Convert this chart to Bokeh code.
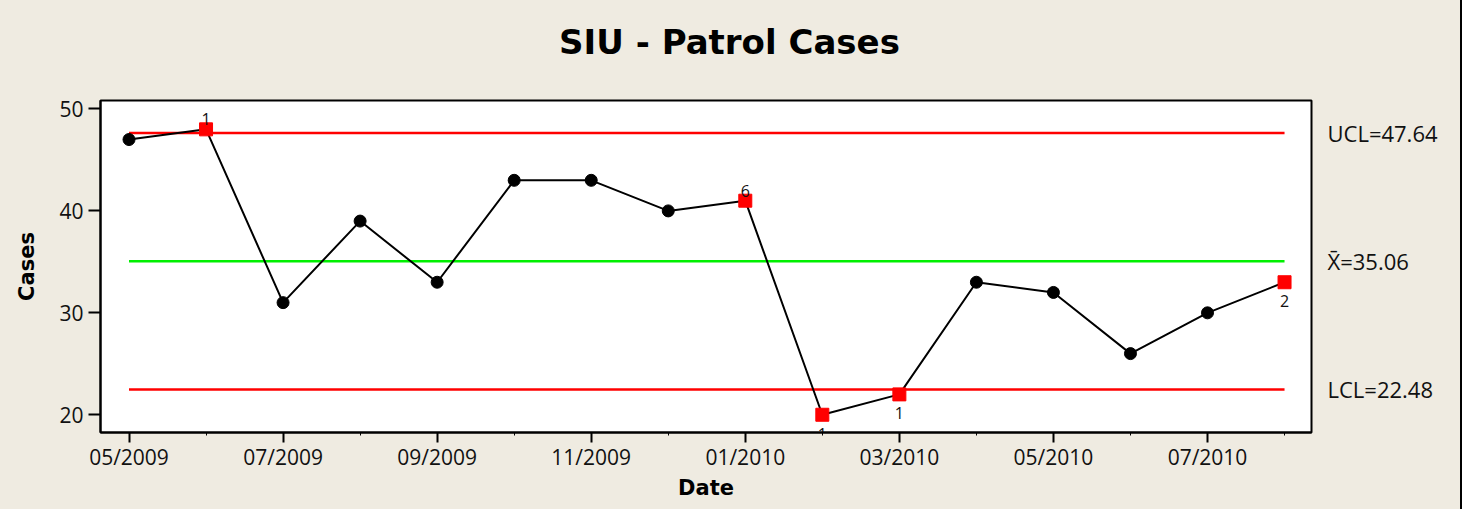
from bokeh.plotting import figure
from bokeh.layouts import column
from bokeh.models import ColumnDataSource, FixedTicker, LinearAxis, Range1d
from bokeh.embed import file_html
from bokeh.resources import INLINE
from bokeh.core.properties import value

# ---- data ----
months = ["05/2009", "06/2009", "07/2009", "08/2009", "09/2009", "10/2009", "11/2009", "12/2009",
          "01/2010", "02/2010", "03/2010", "04/2010", "05/2010", "06/2010", "07/2010", "08/2010"]
cases = [47, 48, 31, 39, 33, 43, 43, 40, 41, 20, 22, 33, 32, 26, 30, 33]
flag_labels = ["", "1", "", "", "", "", "", "", "6", "1", "1", "", "", "", "", "2"]
flag_side = ["", "above", "", "", "", "", "", "", "above", "below", "below", "", "", "", "", "below"]
ucl = 47.64
center = 35.06
lcl = 22.48
limit_labels = ["UCL=47.64", "X\u0304=35.06", "LCL=22.48"]
title_text = "SIU - Patrol Cases"

# ---- layout ----
BG = "#EFEBE1"
TICK_FONT = "Open Sans"
BOLD_FONT = "DejaVu Sans"
W = 1460
TOP_H = 60                      # height of the title strip
H = 509 - TOP_H                 # height of the chart figure
FL, FT, FR, FB = 100, 40, 149, 77
X0, X1 = -0.37, 15.35
Y0, Y1 = 18.26, 50.83

idx = list(range(len(months)))

# title strip: its frame is aligned with the chart frame, and its x range is in canvas pixels
pt = figure(width=W, height=TOP_H, output_backend="svg", toolbar_location=None,
            x_range=Range1d(FL, W - FR), y_range=Range1d(TOP_H, 0),
            x_axis_type=None, y_axis_type=None,
            min_border_left=FL, min_border_right=FR, min_border_top=0, min_border_bottom=0,
            background_fill_color=None, border_fill_color=BG, outline_line_color=None, title=None)
pt.grid.visible = False
pt.text(x=[W / 2 - 1], y=[41], text=[title_text], text_align="center", text_baseline="middle",
        text_font=value(BOLD_FONT), text_font_size="34px", text_font_style="bold",
        text_color="black")

p = figure(width=W, height=H, output_backend="svg", toolbar_location=None,
           x_range=Range1d(X0, X1), y_range=Range1d(Y0, Y1),
           min_border_left=FL, min_border_right=FR, min_border_top=FT, min_border_bottom=FB,
           background_fill_color="white", border_fill_color=BG,
           outline_line_color="black", outline_line_width=2, title=None)
p.grid.visible = False

# x axis
xa = p.xaxis[0]
xa.ticker = FixedTicker(ticks=idx[0::2], minor_ticks=idx[1::2])
xa.major_label_overrides = {i: months[i] for i in idx[0::2]}
xa.axis_label = "Date"
for ax in (p.xaxis[0], p.yaxis[0]):
    ax.axis_line_color = "black"
    ax.axis_line_width = 2
    ax.major_tick_line_color = "black"
    ax.major_tick_line_width = 2
    ax.major_tick_in = 0
    ax.major_label_text_font = TICK_FONT
    ax.major_label_text_font_size = "21px"
    ax.major_label_text_color = "#111111"
    ax.axis_label_text_font = BOLD_FONT
    ax.axis_label_text_font_size = "21px"
    ax.axis_label_text_font_style = "bold"
    ax.axis_label_text_color = "black"
xa.major_tick_out = 10
xa.major_label_standoff = 0
xa.minor_tick_line_color = "black"
xa.minor_tick_line_width = 1
xa.minor_tick_in = 0
xa.minor_tick_out = 3
xa.axis_label_standoff = 2

ya = p.yaxis[0]
ya.ticker = FixedTicker(ticks=[20, 30, 40, 50])
ya.major_tick_out = 12
ya.major_label_standoff = 5
ya.minor_tick_line_color = None
ya.axis_label = "Cases"
ya.axis_label_standoff = 17

# right axis with control-limit labels
ra = LinearAxis(ticker=FixedTicker(ticks=[ucl, center, lcl]),
                major_label_overrides={ucl: limit_labels[0], center: limit_labels[1], lcl: limit_labels[2]},
                axis_line_color=None, major_tick_line_color=None, minor_tick_line_color=None,
                major_tick_in=0, major_tick_out=0, major_label_standoff=16,
                major_label_text_font=TICK_FONT, major_label_text_font_size="22px",
                major_label_text_color="#111111")
p.add_layout(ra, "right")

# control lines
x_span = [idx[0], idx[-1]]
p.line(x_span, [ucl, ucl], line_color="#FF0000", line_width=2.5)
p.line(x_span, [lcl, lcl], line_color="#FF0000", line_width=2.5)
p.line(x_span, [center, center], line_color="#00F000", line_width=2.5)

# data
p.line(idx, cases, line_color="black", line_width=2)
normal = ColumnDataSource(dict(x=[i for i in idx if not flag_labels[i]],
                               y=[cases[i] for i in idx if not flag_labels[i]]))
flagged = ColumnDataSource(dict(x=[i for i in idx if flag_labels[i]],
                                y=[cases[i] for i in idx if flag_labels[i]]))
p.scatter("x", "y", source=normal, marker="circle", size=12, color="black")
p.scatter("x", "y", source=flagged, marker="square", size=13, color="#FF0000")

above = ColumnDataSource(dict(x=[i for i in idx if flag_side[i] == "above"],
                              y=[cases[i] for i in idx if flag_side[i] == "above"],
                              t=[flag_labels[i] for i in idx if flag_side[i] == "above"]))
below = ColumnDataSource(dict(x=[i for i in idx if flag_side[i] == "below"],
                              y=[cases[i] for i in idx if flag_side[i] == "below"],
                              t=[flag_labels[i] for i in idx if flag_side[i] == "below"]))
p.text("x", "y", text="t", source=above, text_align="center", text_baseline="middle",
       y_offset=-10, text_font=value(TICK_FONT), text_font_size="16px", text_color="#111111")
p.text("x", "y", text="t", source=below, text_align="center", text_baseline="middle",
       y_offset=19, text_font=value(TICK_FONT), text_font_size="16px", text_color="#111111")

layout = column(pt, p, spacing=0,
                styles={"background-color": BG,
                        "box-shadow": "-2px 0 0 0 black, 2px 0 0 0 black, 0 -2px 0 0 black"})

open("out.html", "w").write(file_html(layout, INLINE))
